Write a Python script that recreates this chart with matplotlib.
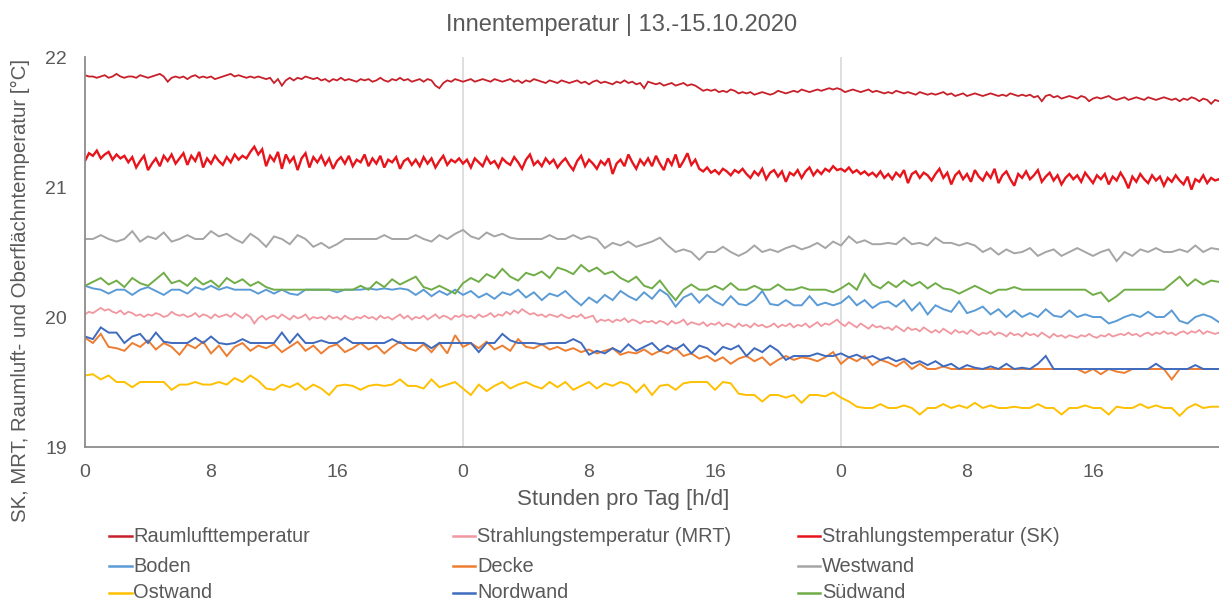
import numpy as np
import matplotlib
matplotlib.use("Agg")
import matplotlib.pyplot as plt
from matplotlib.lines import Line2D

plt.rcParams["font.family"] = ["Liberation Sans", "DejaVu Sans"]

# --- Daten: Messwerte 13.-15.10.2020, 0..72 h ---------------------------------
# 15-min Werte (Raumluft, SK, MRT)
raumluft = [
    21.86, 21.85, 21.85, 21.84, 21.85, 21.86, 21.84, 21.85, 21.87, 21.85, 21.84, 21.85,
    21.85, 21.84, 21.86, 21.85, 21.84, 21.85, 21.86, 21.87, 21.85, 21.81, 21.84, 21.85,
    21.84, 21.85, 21.83, 21.85, 21.86, 21.84, 21.85, 21.84, 21.85, 21.83, 21.84, 21.85,
    21.86, 21.87, 21.85, 21.86, 21.85, 21.84, 21.85, 21.84, 21.85, 21.84, 21.83, 21.84,
    21.80, 21.83, 21.78, 21.82, 21.84, 21.82, 21.84, 21.83, 21.85, 21.84, 21.83, 21.84,
    21.82, 21.83, 21.81, 21.83, 21.82, 21.84, 21.82, 21.83, 21.82, 21.81, 21.83, 21.82,
    21.83, 21.81, 21.82, 21.84, 21.82, 21.81, 21.83, 21.82, 21.84, 21.82, 21.83, 21.81,
    21.82, 21.83, 21.81, 21.83, 21.82, 21.78, 21.76, 21.80, 21.82, 21.81, 21.83, 21.82,
    21.81, 21.82, 21.83, 21.81, 21.82, 21.83, 21.82, 21.81, 21.83, 21.82, 21.81, 21.82,
    21.83, 21.81, 21.82, 21.80, 21.82, 21.81, 21.83, 21.82, 21.81, 21.80, 21.82, 21.81,
    21.80, 21.82, 21.81, 21.80, 21.81, 21.82, 21.80, 21.81, 21.79, 21.81, 21.82, 21.80,
    21.81, 21.80, 21.79, 21.81, 21.80, 21.82, 21.80, 21.81, 21.79, 21.80, 21.76, 21.81,
    21.80, 21.79, 21.80, 21.78, 21.79, 21.80, 21.78, 21.79, 21.80, 21.78, 21.79, 21.78,
    21.76, 21.74, 21.75, 21.74, 21.75, 21.73, 21.74, 21.73, 21.75, 21.74, 21.72, 21.73,
    21.72, 21.73, 21.71, 21.72, 21.73, 21.72, 21.71, 21.72, 21.74, 21.73, 21.72, 21.73,
    21.74, 21.73, 21.75, 21.74, 21.73, 21.74, 21.75, 21.74, 21.75, 21.76, 21.75, 21.76,
    21.75, 21.73, 21.74, 21.75, 21.74, 21.73, 21.74, 21.75, 21.73, 21.74, 21.73, 21.72,
    21.73, 21.72, 21.74, 21.73, 21.72, 21.73, 21.72, 21.71, 21.73, 21.72, 21.71, 21.72,
    21.71, 21.72, 21.73, 21.71, 21.72, 21.70, 21.71, 21.72, 21.70, 21.71, 21.72, 21.71,
    21.70, 21.71, 21.72, 21.71, 21.70, 21.71, 21.70, 21.72, 21.71, 21.70, 21.71, 21.70,
    21.71, 21.69, 21.70, 21.66, 21.70, 21.71, 21.69, 21.70, 21.68, 21.69, 21.70, 21.69,
    21.68, 21.70, 21.69, 21.66, 21.68, 21.69, 21.68, 21.69, 21.70, 21.68, 21.67, 21.68,
    21.69, 21.67, 21.68, 21.69, 21.68, 21.67, 21.69, 21.68, 21.67, 21.68, 21.69, 21.68,
    21.67, 21.68, 21.66, 21.68, 21.67, 21.69, 21.68, 21.66, 21.68, 21.67, 21.64, 21.67,
    21.66,
]
sk = [
    21.20, 21.26, 21.24, 21.28, 21.22, 21.25, 21.27, 21.21, 21.25, 21.22, 21.24, 21.19,
    21.23, 21.15, 21.20, 21.24, 21.13, 21.18, 21.22, 21.16, 21.24, 21.20, 21.25, 21.18,
    21.22, 21.26, 21.17, 21.24, 21.20, 21.27, 21.15, 21.22, 21.18, 21.24, 21.20, 21.17,
    21.23, 21.19, 21.25, 21.21, 21.24, 21.22, 21.27, 21.31, 21.25, 21.29, 21.16, 21.24,
    21.20, 21.27, 21.14, 21.25, 21.19, 21.23, 21.13, 21.22, 21.26, 21.15, 21.23, 21.19,
    21.24, 21.17, 21.22, 21.14, 21.20, 21.23, 21.18, 21.24, 21.16, 21.21, 21.19, 21.25,
    21.16, 21.22, 21.18, 21.24, 21.15, 21.21, 21.19, 21.23, 21.14, 21.20, 21.22, 21.17,
    21.21, 21.16, 21.23, 21.18, 21.22, 21.15, 21.20, 21.24, 21.17, 21.21, 21.19, 21.22,
    21.18, 21.21, 21.15, 21.22, 21.19, 21.16, 21.23, 21.18, 21.20, 21.15, 21.22, 21.19,
    21.17, 21.23, 21.19, 21.14, 21.21, 21.25, 21.17, 21.20, 21.16, 21.22, 21.18, 21.21,
    21.15, 21.19, 21.22, 21.17, 21.13, 21.20, 21.24, 21.16, 21.21, 21.18, 21.14, 21.20,
    21.17, 21.22, 21.10, 21.18, 21.21, 21.16, 21.25, 21.19, 21.14, 21.21, 21.17, 21.22,
    21.16, 21.24, 21.18, 21.13, 21.22, 21.17, 21.25, 21.15, 21.20, 21.26, 21.17, 21.21,
    21.14, 21.12, 21.15, 21.11, 21.13, 21.10, 21.14, 21.12, 21.09, 21.13, 21.11, 21.14,
    21.10, 21.07, 21.12, 21.09, 21.14, 21.06, 21.11, 21.13, 21.08, 21.12, 21.04, 21.11,
    21.09, 21.13, 21.07, 21.12, 21.15, 21.09, 21.13, 21.10, 21.14, 21.12, 21.16, 21.13,
    21.14, 21.12, 21.15, 21.11, 21.13, 21.10, 21.12, 21.09, 21.11, 21.08, 21.12, 21.07,
    21.10, 21.06, 21.11, 21.08, 21.13, 21.03, 21.10, 21.12, 21.07, 21.11, 21.09, 21.05,
    21.10, 21.14, 21.07, 21.11, 21.02, 21.09, 21.12, 21.06, 21.10, 21.04, 21.13, 21.08,
    21.05, 21.11, 21.07, 21.14, 21.03, 21.09, 21.12, 21.06, 21.01, 21.10, 21.07, 21.12,
    21.06, 21.09, 21.13, 21.04, 21.08, 21.11, 21.05, 21.09, 21.02, 21.07, 21.10, 21.06,
    21.09, 21.04, 21.11, 21.07, 21.03, 21.09, 21.06, 21.10, 21.02, 21.08, 21.05, 21.11,
    21.06, 20.99, 21.08, 21.04, 21.10, 21.06, 21.03, 21.09, 21.05, 21.08, 21.01, 21.07,
    21.04, 21.09, 21.05, 21.02, 21.08, 20.98, 21.06, 21.04, 21.09, 21.03, 21.07, 21.05,
    21.06,
]
mrt = [
    20.02, 20.04, 20.03, 20.05, 20.07, 20.05, 20.06, 20.04, 20.03, 20.05, 20.02, 20.04,
    20.03, 20.01, 20.02, 20.00, 20.02, 20.01, 20.03, 20.02, 20.00, 20.01, 20.04, 20.02,
    20.01, 20.02, 20.00, 20.01, 20.03, 20.00, 20.02, 20.01, 19.99, 20.02, 20.00, 20.01,
    20.02, 20.00, 20.03, 20.01, 19.99, 20.02, 20.00, 19.95, 19.99, 20.01, 19.98, 20.00,
    20.01, 19.99, 20.02, 20.00, 19.98, 20.01, 19.99, 20.00, 20.02, 19.98, 20.00, 19.99,
    20.00, 19.98, 20.01, 19.99, 20.00, 19.98, 20.01, 19.99, 19.98, 20.00, 19.99, 20.01,
    19.99, 20.00, 19.98, 20.01, 19.99, 20.00, 19.98, 20.00, 20.02, 19.99, 20.01, 19.98,
    20.00, 19.99, 20.01, 19.98, 20.00, 20.02, 19.99, 20.01, 20.00, 19.98, 20.01, 20.00,
    20.02, 20.00, 20.01, 19.99, 20.02, 20.00, 20.01, 20.03, 20.00, 20.02, 20.01, 20.04,
    20.02, 20.05, 20.03, 20.06, 20.04, 20.02, 20.03, 20.01, 20.02, 20.00, 20.02, 20.01,
    20.00, 20.02, 20.00, 19.99, 20.01, 20.00, 20.02, 19.99, 20.00, 20.01, 19.96, 19.98,
    19.97, 19.98, 19.96, 19.98, 19.97, 19.99, 19.96, 19.98, 19.97, 19.95, 19.97, 19.96,
    19.97, 19.95, 19.97, 19.96, 19.94, 19.97, 19.95, 19.96, 19.98, 19.94, 19.96, 19.95,
    19.94, 19.96, 19.93, 19.95, 19.94, 19.96, 19.93, 19.95, 19.94, 19.92, 19.95, 19.93,
    19.94, 19.92, 19.95, 19.93, 19.94, 19.92, 19.93, 19.95, 19.92, 19.94, 19.93, 19.95,
    19.92, 19.94, 19.93, 19.95, 19.92, 19.94, 19.96, 19.93, 19.95, 19.94, 19.96, 19.98,
    19.95, 19.93, 19.96, 19.94, 19.92, 19.95, 19.93, 19.91, 19.94, 19.92, 19.93, 19.91,
    19.92, 19.90, 19.93, 19.91, 19.89, 19.92, 19.90, 19.91, 19.89, 19.92, 19.90, 19.88,
    19.90, 19.88, 19.91, 19.89, 19.87, 19.90, 19.88, 19.89, 19.87, 19.90, 19.88, 19.86,
    19.88, 19.87, 19.89, 19.86, 19.88, 19.87, 19.85, 19.88, 19.86, 19.87, 19.85, 19.88,
    19.86, 19.87, 19.85, 19.88, 19.86, 19.84, 19.87, 19.85, 19.86, 19.84, 19.86, 19.85,
    19.84, 19.86, 19.85, 19.87, 19.85, 19.84, 19.86, 19.85, 19.87, 19.85, 19.86, 19.87,
    19.86, 19.88, 19.86, 19.87, 19.85, 19.87, 19.88, 19.86, 19.88, 19.87, 19.89, 19.87,
    19.88, 19.86, 19.88, 19.89, 19.87, 19.89, 19.88, 19.90, 19.87, 19.89, 19.88, 19.87,
    19.88,
]

# 30-min Werte (Oberflächen)
boden = [
    20.24, 20.22, 20.21, 20.18, 20.21, 20.21, 20.17, 20.21, 20.23, 20.20, 20.17, 20.21,
    20.21, 20.18, 20.23, 20.21, 20.24, 20.21, 20.23, 20.21, 20.21, 20.21, 20.18, 20.21,
    20.18, 20.21, 20.18, 20.17, 20.21, 20.21, 20.21, 20.21, 20.19, 20.21, 20.21, 20.21,
    20.22, 20.21, 20.22, 20.21, 20.22, 20.21, 20.17, 20.21, 20.16, 20.20, 20.17, 20.21,
    20.17, 20.20, 20.15, 20.18, 20.14, 20.19, 20.17, 20.21, 20.15, 20.19, 20.13, 20.18,
    20.16, 20.20, 20.14, 20.09, 20.15, 20.11, 20.17, 20.13, 20.20, 20.16, 20.13, 20.19,
    20.14, 20.21, 20.17, 20.08, 20.15, 20.18, 20.11, 20.17, 20.12, 20.09, 20.16, 20.10,
    20.09, 20.13, 20.20, 20.10, 20.09, 20.13, 20.09, 20.09, 20.16, 20.09, 20.11, 20.09,
    20.11, 20.16, 20.09, 20.13, 20.07, 20.11, 20.12, 20.08, 20.13, 20.05, 20.11, 20.02,
    20.09, 20.06, 20.04, 20.12, 20.03, 20.05, 20.08, 20.02, 20.06, 20.00, 20.05, 20.00,
    20.03, 20.00, 20.06, 20.01, 20.00, 20.05, 20.00, 20.02, 20.00, 20.00, 19.95, 19.97,
    20.00, 20.02, 20.00, 20.04, 20.00, 20.00, 20.05, 19.97, 19.95, 20.00, 20.02, 20.00,
    19.96,
]
decke = [
    19.84, 19.80, 19.87, 19.77, 19.76, 19.74, 19.80, 19.77, 19.82, 19.75, 19.80, 19.77,
    19.71, 19.79, 19.76, 19.81, 19.72, 19.78, 19.70, 19.77, 19.80, 19.74, 19.78, 19.76,
    19.79, 19.73, 19.77, 19.81, 19.74, 19.78, 19.72, 19.77, 19.79, 19.73, 19.76, 19.80,
    19.75, 19.78, 19.72, 19.77, 19.81, 19.76, 19.74, 19.79, 19.73, 19.80, 19.72, 19.86,
    19.77, 19.80, 19.76, 19.81, 19.75, 19.78, 19.74, 19.83, 19.77, 19.76, 19.79, 19.75,
    19.77, 19.74, 19.76, 19.73, 19.75, 19.72, 19.74, 19.76, 19.71, 19.73, 19.72, 19.75,
    19.71, 19.74, 19.72, 19.76, 19.70, 19.72, 19.68, 19.70, 19.66, 19.69, 19.64, 19.68,
    19.70, 19.66, 19.69, 19.63, 19.67, 19.70, 19.67, 19.69, 19.68, 19.66, 19.69, 19.73,
    19.64, 19.69, 19.66, 19.70, 19.63, 19.67, 19.65, 19.62, 19.66, 19.60, 19.64, 19.60,
    19.60, 19.62, 19.60, 19.60, 19.60, 19.60, 19.60, 19.60, 19.60, 19.60, 19.60, 19.60,
    19.60, 19.60, 19.60, 19.60, 19.60, 19.60, 19.60, 19.57, 19.60, 19.56, 19.60, 19.58,
    19.57, 19.60, 19.60, 19.60, 19.60, 19.60, 19.52, 19.60, 19.60, 19.60, 19.60, 19.60,
    19.60,
]
westwand = [
    20.60, 20.60, 20.63, 20.60, 20.58, 20.60, 20.66, 20.58, 20.62, 20.60, 20.65, 20.58,
    20.60, 20.63, 20.60, 20.60, 20.66, 20.62, 20.64, 20.60, 20.57, 20.64, 20.60, 20.54,
    20.62, 20.60, 20.56, 20.63, 20.60, 20.54, 20.57, 20.53, 20.56, 20.60, 20.60, 20.60,
    20.60, 20.60, 20.63, 20.60, 20.60, 20.60, 20.63, 20.60, 20.58, 20.63, 20.60, 20.64,
    20.67, 20.62, 20.60, 20.65, 20.62, 20.64, 20.61, 20.60, 20.60, 20.60, 20.60, 20.63,
    20.60, 20.60, 20.63, 20.60, 20.62, 20.60, 20.53, 20.57, 20.55, 20.58, 20.54, 20.56,
    20.58, 20.61, 20.55, 20.50, 20.52, 20.50, 20.44, 20.50, 20.50, 20.54, 20.50, 20.47,
    20.50, 20.55, 20.50, 20.52, 20.50, 20.53, 20.55, 20.52, 20.54, 20.57, 20.53, 20.58,
    20.55, 20.62, 20.57, 20.59, 20.56, 20.56, 20.57, 20.56, 20.61, 20.56, 20.57, 20.55,
    20.61, 20.57, 20.57, 20.55, 20.57, 20.55, 20.50, 20.53, 20.48, 20.52, 20.49, 20.50,
    20.53, 20.47, 20.50, 20.52, 20.47, 20.50, 20.53, 20.50, 20.47, 20.50, 20.52, 20.43,
    20.50, 20.47, 20.52, 20.50, 20.53, 20.50, 20.50, 20.52, 20.50, 20.55, 20.50, 20.53,
    20.52,
]
ostwand = [
    19.55, 19.56, 19.52, 19.55, 19.50, 19.50, 19.46, 19.50, 19.50, 19.50, 19.50, 19.44,
    19.48, 19.48, 19.50, 19.48, 19.48, 19.50, 19.48, 19.53, 19.50, 19.55, 19.51, 19.45,
    19.44, 19.48, 19.46, 19.49, 19.44, 19.48, 19.45, 19.40, 19.47, 19.48, 19.47, 19.44,
    19.47, 19.48, 19.47, 19.48, 19.52, 19.47, 19.47, 19.45, 19.52, 19.46, 19.48, 19.50,
    19.45, 19.40, 19.48, 19.43, 19.47, 19.50, 19.45, 19.48, 19.50, 19.47, 19.45, 19.50,
    19.46, 19.50, 19.44, 19.47, 19.50, 19.45, 19.49, 19.47, 19.50, 19.48, 19.42, 19.48,
    19.40, 19.47, 19.48, 19.44, 19.49, 19.50, 19.50, 19.50, 19.44, 19.50, 19.49, 19.41,
    19.40, 19.40, 19.35, 19.40, 19.40, 19.38, 19.40, 19.34, 19.40, 19.40, 19.39, 19.42,
    19.38, 19.35, 19.31, 19.30, 19.30, 19.33, 19.30, 19.30, 19.32, 19.30, 19.25, 19.30,
    19.30, 19.33, 19.30, 19.32, 19.30, 19.34, 19.30, 19.32, 19.30, 19.30, 19.31, 19.30,
    19.30, 19.33, 19.30, 19.30, 19.25, 19.30, 19.30, 19.32, 19.30, 19.30, 19.25, 19.31,
    19.30, 19.30, 19.33, 19.30, 19.32, 19.30, 19.30, 19.24, 19.30, 19.33, 19.30, 19.31,
    19.31,
]
nordwand = [
    19.85, 19.83, 19.92, 19.88, 19.88, 19.80, 19.85, 19.87, 19.80, 19.88, 19.81, 19.80,
    19.80, 19.80, 19.84, 19.80, 19.85, 19.80, 19.79, 19.80, 19.83, 19.80, 19.80, 19.80,
    19.80, 19.88, 19.80, 19.87, 19.80, 19.80, 19.82, 19.80, 19.80, 19.84, 19.80, 19.80,
    19.80, 19.80, 19.80, 19.83, 19.80, 19.80, 19.80, 19.80, 19.76, 19.80, 19.80, 19.80,
    19.80, 19.80, 19.73, 19.80, 19.80, 19.87, 19.82, 19.80, 19.80, 19.80, 19.79, 19.80,
    19.80, 19.80, 19.83, 19.80, 19.71, 19.74, 19.72, 19.76, 19.73, 19.79, 19.74, 19.77,
    19.80, 19.74, 19.78, 19.75, 19.79, 19.72, 19.78, 19.76, 19.71, 19.77, 19.75, 19.78,
    19.70, 19.76, 19.73, 19.78, 19.74, 19.67, 19.70, 19.70, 19.70, 19.72, 19.70, 19.70,
    19.72, 19.69, 19.71, 19.68, 19.70, 19.67, 19.69, 19.66, 19.68, 19.64, 19.66, 19.63,
    19.66, 19.62, 19.64, 19.60, 19.63, 19.61, 19.60, 19.62, 19.60, 19.64, 19.60, 19.61,
    19.60, 19.64, 19.70, 19.60, 19.60, 19.60, 19.60, 19.60, 19.60, 19.60, 19.60, 19.60,
    19.60, 19.60, 19.60, 19.60, 19.64, 19.60, 19.60, 19.60, 19.60, 19.63, 19.60, 19.60,
    19.60,
]
suedwand = [
    20.24, 20.27, 20.30, 20.25, 20.28, 20.23, 20.30, 20.26, 20.24, 20.29, 20.34, 20.26,
    20.28, 20.24, 20.30, 20.25, 20.28, 20.23, 20.30, 20.26, 20.29, 20.24, 20.27, 20.23,
    20.21, 20.21, 20.21, 20.21, 20.21, 20.21, 20.21, 20.21, 20.21, 20.21, 20.21, 20.24,
    20.21, 20.27, 20.23, 20.29, 20.25, 20.28, 20.31, 20.23, 20.21, 20.24, 20.21, 20.18,
    20.26, 20.30, 20.27, 20.33, 20.30, 20.37, 20.31, 20.28, 20.34, 20.32, 20.35, 20.30,
    20.38, 20.36, 20.33, 20.40, 20.35, 20.38, 20.33, 20.35, 20.30, 20.27, 20.31, 20.24,
    20.22, 20.28, 20.20, 20.13, 20.21, 20.25, 20.21, 20.21, 20.24, 20.21, 20.26, 20.21,
    20.21, 20.24, 20.21, 20.21, 20.25, 20.21, 20.21, 20.23, 20.21, 20.21, 20.21, 20.19,
    20.22, 20.26, 20.21, 20.33, 20.25, 20.22, 20.27, 20.23, 20.28, 20.24, 20.27, 20.22,
    20.26, 20.22, 20.21, 20.18, 20.21, 20.24, 20.21, 20.18, 20.21, 20.21, 20.23, 20.21,
    20.21, 20.21, 20.21, 20.21, 20.21, 20.21, 20.21, 20.21, 20.17, 20.19, 20.12, 20.16,
    20.21, 20.21, 20.21, 20.21, 20.21, 20.21, 20.26, 20.31, 20.24, 20.29, 20.25, 20.28,
    20.27,
]

series = [
    ("Raumlufttemperatur", raumluft, "#C8202A", 1.3),
    ("Strahlungstemperatur (MRT)", mrt, "#F0979F", 1.3),
    ("Strahlungstemperatur (SK)", sk, "#E8141C", 1.7),
    ("Boden", boden, "#5B9BD5", 1.4),
    ("Decke", decke, "#ED7D31", 1.4),
    ("Westwand", westwand, "#A5A5A5", 1.4),
    ("Ostwand", ostwand, "#FFC000", 1.4),
    ("Nordwand", nordwand, "#3F6BBF", 1.4),
    ("Südwand", suedwand, "#70AD47", 1.4),
]

x_ticks = [0, 8, 16, 24, 32, 40, 48, 56, 64]
x_ticklabels = ["0", "8", "16", "0", "8", "16", "0", "8", "16"]
y_ticks = [19, 20, 21, 22]

TXT = "#595959"
W, H = 1219, 604


def fx(px):
    return px / W


def fy(py):
    return 1 - py / H


fig = plt.figure(figsize=(W / 100, H / 100), dpi=100)
ax = fig.add_axes([fx(85), fy(447), 1 - fx(85), (447 - 57) / H])

for name, vals, col, lw in series:
    hrs = np.linspace(0, 72, len(vals))
    ax.plot(hrs, vals, color=col, lw=lw, solid_joinstyle="miter")

ax.set_xlim(0, 72)
ax.set_ylim(19, 22)
ax.set_xticks(x_ticks)
ax.set_xticklabels(x_ticklabels)
ax.set_yticks(y_ticks)
ax.tick_params(length=0, labelsize=14, labelcolor=TXT)
ax.tick_params(axis="x", pad=12)
ax.tick_params(axis="y", pad=13)

# Tagesgrenzen
for d in [24, 48]:
    ax.axvline(d, color="#D9D9D9", lw=1.2, zorder=0)

for s in ["top", "right"]:
    ax.spines[s].set_visible(False)
for s in ["left", "bottom"]:
    ax.spines[s].set_color("#8C8C8C")
    ax.spines[s].set_linewidth(1.3)

fig.text(fx(622), fy(25), "Innentemperatur | 13.-15.10.2020", ha="center", va="center",
         fontsize=17, color=TXT)
fig.text(fx(623), fy(500), "Stunden pro Tag [h/d]", ha="center", va="center",
         fontsize=16, color=TXT)
fig.text(fx(20), fy(290), "SK, MRT, Raumluft- und Oberflächntemperatur [°C]",
         rotation=90, ha="center", va="center", fontsize=14.7, color=TXT)

# Legende (3 Spalten, zeilenweise)
col_x = [(109, 132, 133), (453, 475, 477), (798, 820, 822)]
row_y = [536, 566, 593]
for i, (name, vals, col, lw) in enumerate(series):
    r, c = divmod(i, 3)
    x0, x1, xt = col_x[c]
    fig.add_artist(Line2D([fx(x0), fx(x1)], [fy(row_y[r]), fy(row_y[r])],
                          transform=fig.transFigure, color=col, lw=1.8))
    fig.text(fx(xt), fy(row_y[r]), name, ha="left", va="center",
             fontsize=14.4, color=TXT)

fig.savefig("out.png", dpi=100)
plt.close(fig)
